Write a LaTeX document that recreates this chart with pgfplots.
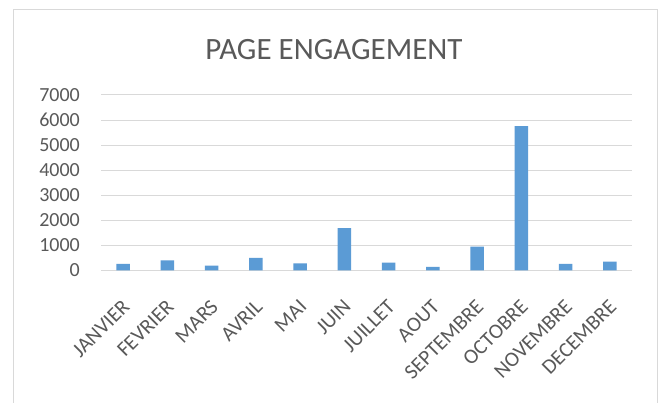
\documentclass[border=0pt]{standalone}
\usepackage{fontspec}
\setmainfont{Carlito}
\usepackage{pgfplots}
\pgfplotsset{compat=1.18}
\definecolor{barblue}{HTML}{5B9BD5}
\definecolor{txtgray}{HTML}{595959}
\definecolor{gridgray}{HTML}{D9D9D9}
\begin{document}
\begin{tikzpicture}[x=1pt,y=1pt]
\path[use as bounding box, fill=white] (0,0) rectangle (664,403);
% chart frame (bottom edge is cut off in the reference)
\draw[gridgray, line width=1pt] (13.3,0) -- (13.3,393.7) -- (657.3,393.7) -- (657.3,0);
\node[anchor=base, text=txtgray, font=\fontsize{31}{36}\selectfont, inner sep=0pt]
  at (334,343.7) {PAGE ENGAGEMENT};
\begin{axis}[
    at={(101pt,132.7pt)}, anchor=south west,
    scale only axis, width=531pt, height=175.3pt,
    xmin=-0.5, xmax=11.5, ymin=0, ymax=7000,
    ybar, bar width=13.7pt, bar shift=0pt,
    axis line style={draw=none},
    major tick length=0pt, tick style={draw=none},
    ymajorgrids, grid style={gridgray, line width=1pt},
    ytick={0,1000,...,7000},
    xtick={0,...,11},
    xticklabels={JANVIER,FEVRIER,MARS,AVRIL,MAI,JUIN,JUILLET,AOUT,SEPTEMBRE,OCTOBRE,NOVEMBRE,DECEMBRE},
    /pgf/number format/assume math mode=true,
    /pgf/number format/1000 sep={},
    ticklabel style={text=txtgray, font=\fontsize{20}{24}\selectfont},
    yticklabel style={xshift=-21pt, anchor=east, inner sep=0pt},
    xticklabel style={xshift=3pt, yshift=-33pt, rotate=45, anchor=east, inner sep=0pt,
        font=\fontsize{21}{24}\selectfont},
]
\addplot[fill=barblue, draw=none] coordinates {
    (0,252) (1,400) (2,185) (3,492) (4,280) (5,1680)
    (6,305) (7,132) (8,945) (9,5760) (10,252) (11,345)
};
\end{axis}
\end{tikzpicture}
\end{document}
